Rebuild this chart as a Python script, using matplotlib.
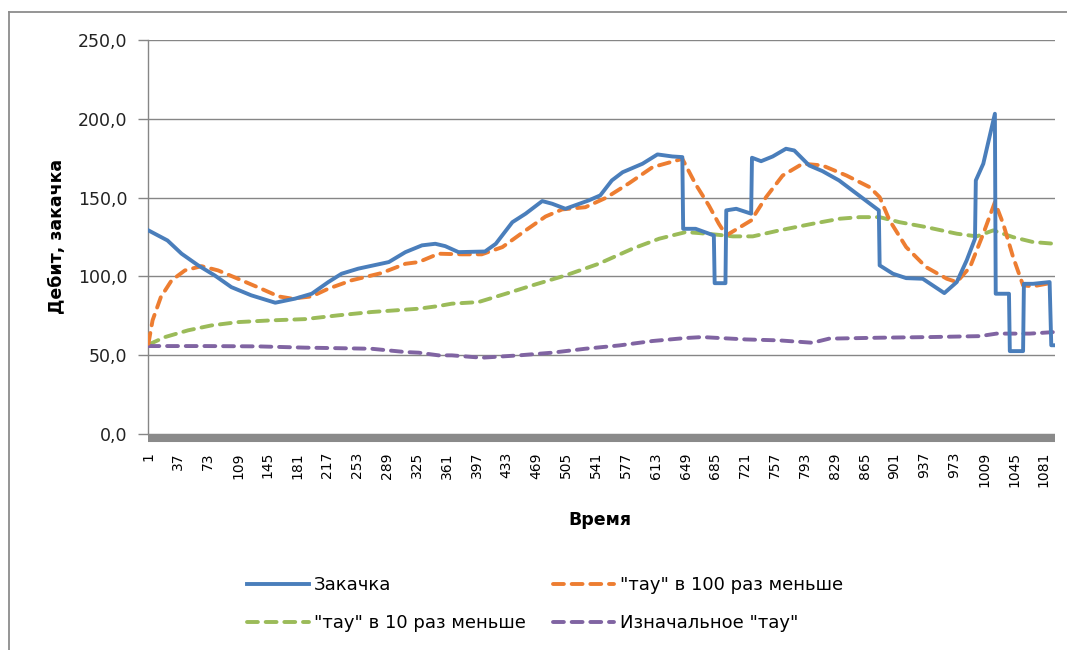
import matplotlib
matplotlib.use("Agg")
import matplotlib.pyplot as plt
from matplotlib.lines import Line2D

# --- Данные ---
# Закачка
zak_t = [1, 24, 41, 61, 81, 101, 125, 154, 178, 198, 218, 234, 254, 291, 311, 331, 347, 359, 375, 407,
         420, 440, 456, 476, 488, 504, 532, 546, 560, 573, 597, 615, 633, 645, 646, 661, 683, 684, 697, 698,
         710, 728, 729, 740, 754, 770, 780, 798, 814, 834, 858, 882, 883, 899, 915, 935, 961, 976, 988, 998,
         999, 1008, 1022, 1023, 1039, 1040, 1056, 1057, 1068, 1088, 1090, 1094]
zak_v = [129.2, 122.8, 114.4, 107, 100.6, 93.2, 88, 83.3, 85.9, 89, 96.4, 101.7, 104.9, 109.1, 115.4, 119.7,
         120.7, 119.2, 115.4, 115.8, 120.7, 134.4, 139.8, 147.8, 146.1, 142.9, 148.2, 151.4, 160.9, 166.1,
         171.5, 177.4, 176.1, 175.7, 130.2, 130.2, 126, 95.7, 95.7, 141.9, 142.9, 139.8, 175.3, 173.1, 176.1,
         181, 179.9, 170.4, 166.8, 160.9, 151.4, 141.9, 107, 101.7, 98.9, 98.5, 89.4, 96.4, 110.2, 123.9,
         160.9, 171.5, 203.2, 89, 89, 52.6, 52.6, 95.3, 95.3, 96.4, 56.3, 56.3]

# "тау" в 100 раз меньше
tau100_t = [1, 6, 16, 29, 45, 65, 85, 109, 137, 158, 174, 198, 218, 246, 282, 311, 327, 351, 379, 403,
            428, 456, 480, 500, 528, 553, 581, 609, 641, 645, 661, 677, 689, 698, 728, 746, 766, 790, 814, 843,
            871, 883, 895, 915, 939, 964, 976, 992, 1008, 1022, 1032, 1044, 1056, 1068, 1088, 1094]
tau100_v = [57.3, 72.1, 86.9, 97.5, 103.8, 106.5, 103.8, 98.5, 92.2, 87.3, 85.9, 87.3, 92.2, 97.5, 102.1,
            108, 109.1, 114.4, 114, 114, 118.6, 129.2, 138, 142.5, 143.9, 149.9, 159.2, 169.3, 174, 174.6,
            158.5, 145, 133.4, 126, 135.5, 150.3, 164, 171.5, 170.4, 164, 156.6, 150.3, 135.5, 118.6, 105.9,
            98.5, 96.4, 105.9, 127.1, 147.1, 133.4, 112.2, 94.3, 93.7, 95.7, 95]

# "тау" в 10 раз меньше
tau10_t = [1, 21, 49, 77, 109, 149, 190, 230, 270, 311, 327, 351, 367, 399, 432, 464, 504, 544, 585, 617,
           649, 665, 686, 706, 730, 762, 802, 835, 859, 883, 907, 939, 976, 1000, 1020, 1044, 1068, 1094]
tau10_v = [56.7, 61.5, 65.8, 68.9, 71, 72.1, 72.9, 75.3, 77.4, 78.9, 79.5, 81.2, 82.7, 83.7, 89, 94.3,
           100.6, 108, 117.6, 123.9, 128.1, 127.5, 126.5, 125.4, 125.4, 129.2, 133.4, 136.6, 137.6, 137.6,
           134.4, 131.3, 127.1, 125.4, 129.2, 124.9, 121.8, 120.7]

# Изначальное "тау"
tau0_t = [1, 69, 133, 190, 270, 311, 327, 351, 367, 403, 448, 488, 528, 569, 609, 649, 669, 690, 722, 762,
          802, 822, 883, 943, 1004, 1024, 1064, 1094]
tau0_v = [55.8, 55.8, 55.6, 54.8, 54.1, 52, 51.6, 49.9, 49.9, 48.4, 49.9, 51.6, 54.1, 56.2, 59, 60.9,
          61.5, 60.9, 60, 59.4, 57.9, 60.5, 61.1, 61.5, 62.1, 63.7, 63.7, 64.7]

n_points = 1094
x_ticks = list(range(1, 1082, 36))
y_ticks = [0, 50, 100, 150, 200, 250]
y_labels = ["0,0", "50,0", "100,0", "150,0", "200,0", "250,0"]

labels = ['Закачка', '"тау" в 100 раз меньше', '"тау" в 10 раз меньше', 'Изначальное "тау"']
colors = ['#4A7EBB', '#ED7D31', '#9BBB59', '#8064A2']

plt.rcParams['font.family'] = ['DejaVu Sans']
GRAY = '#868686'

W, H = 1067, 650
fig = plt.figure(figsize=(W / 100, H / 100), dpi=100)
ax = fig.add_axes([148 / W, 1 - 434 / H, (1055 - 148) / W, (434 - 40) / H])

# рамка области диаграммы (видны верх и левый край)
fig.add_artist(Line2D([9 / W, 1], [1 - 12 / H] * 2, transform=fig.transFigure, color='#8C8C8C', lw=1.3))
fig.add_artist(Line2D([9 / W] * 2, [1 - 12 / H, 0], transform=fig.transFigure, color='#8C8C8C', lw=1.3))

# линии
l0, = ax.plot(zak_t, zak_v, color=colors[0], lw=2.8, label=labels[0], zorder=5, solid_joinstyle='round')
l1, = ax.plot(tau100_t, tau100_v, color=colors[1], lw=2.8, dashes=(2.8, 2.0), dash_capstyle='round',
              label=labels[1], zorder=4)
l2, = ax.plot(tau10_t, tau10_v, color=colors[2], lw=2.8, dashes=(2.8, 2.0), dash_capstyle='round',
              label=labels[2], zorder=3)
l3, = ax.plot(tau0_t, tau0_v, color=colors[3], lw=2.8, dashes=(2.8, 2.0), dash_capstyle='round',
              label=labels[3], zorder=3)

ax.set_xlim(0.5, n_points + 0.5)
ax.set_ylim(0, 250)

# сетка
ax.set_yticks(y_ticks)
ax.set_yticklabels(y_labels, fontsize=12.5, color='#222222')
ax.grid(axis='y', color=GRAY, lw=1.0)
ax.set_axisbelow(True)

ax.set_xticks(x_ticks)
ax.set_xticklabels([str(t) for t in x_ticks], fontsize=12.8, color='#222222')
ax.tick_params(axis='x', length=0, pad=10, labelrotation=90)
ax.tick_params(axis='y', length=7, width=1, color=GRAY, pad=8)

for side in ['top', 'right']:
    ax.spines[side].set_visible(False)
ax.spines['left'].set_color(GRAY)
ax.spines['left'].set_linewidth(1.0)
# толстая серая полоса у нуля
ax.spines['bottom'].set_color('#8A8A8A')
ax.spines['bottom'].set_linewidth(5.8)
ax.spines['bottom'].set_position(('outward', 3))
ax.spines['bottom'].set_capstyle('butt')

# подписи осей
fig.text(57 / W, 1 - 236 / H, 'Дебит, закачка', rotation=90, ha='center', va='center',
         fontsize=12.5, fontweight='bold')
fig.text(600 / W, 1 - 520 / H, 'Время', ha='center', va='center', fontsize=12.5, fontweight='bold')

# легенда: в matplotlib заполнение идёт по столбцам, поэтому порядок переставлен
fig.legend([l0, l2, l1, l3], [labels[0], labels[2], labels[1], labels[3]],
           loc='center', bbox_to_anchor=(545 / W, 1 - 604 / H), ncol=2, frameon=False,
           fontsize=13, handlelength=3.4, handletextpad=0.3, columnspacing=1.5, labelspacing=1.1)

fig.savefig('out.png', dpi=100)
